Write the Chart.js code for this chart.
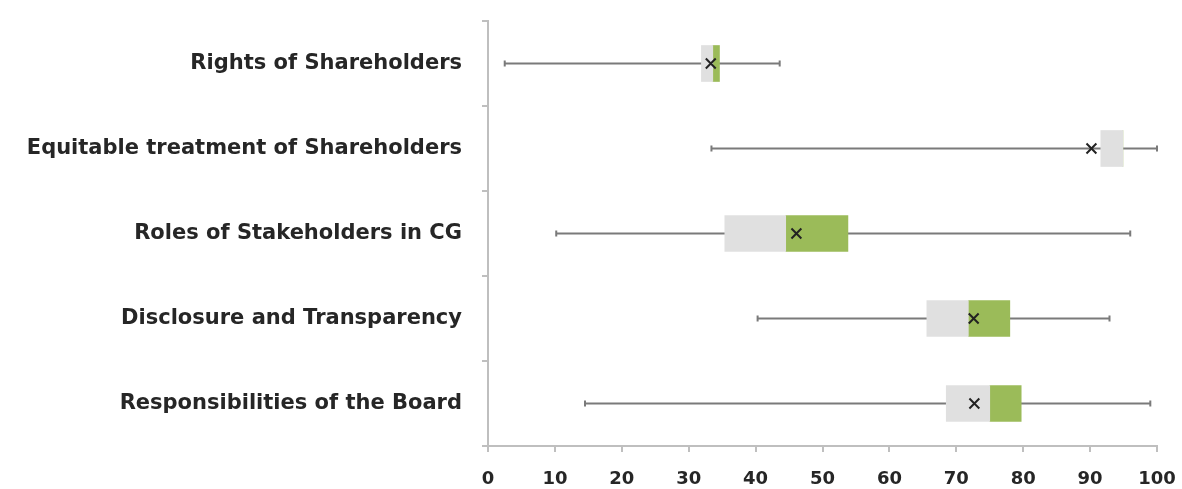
<!DOCTYPE html>
<html>
<head>
<meta charset="utf-8">
<script src="https://cdn.jsdelivr.net/npm/chart.js@4"></script>
<style>
  html, body { margin: 0; padding: 0; background: #fff; }
  #wrap { width: 1182px; height: 489px; }
</style>
</head>
<body>
<div id="wrap"><canvas id="box-chart"></canvas></div>
<script>
const categories = [
    'Rights of Shareholders',
    'Equitable treatment of Shareholders',
    'Roles of Stakeholders in CG',
    'Disclosure and Transparency',
    'Responsibilities of the Board'
];
const mins    = [2.5, 33.4, 10.2, 40.3, 14.5];
const q1      = [31.9, 91.6, 35.4, 65.6, 68.5];
const medians = [33.6, 94.9, 44.5, 71.8, 75.0];
const q3      = [34.6, 94.9, 53.8, 78.0, 79.7];
const maxs    = [43.6, 100, 96.0, 92.9, 99.0];
const means   = [33.3, 90.2, 46.1, 72.6, 72.7];

// whisker lines behind the boxes
const whiskers = {
    id: 'whiskers',
    beforeDatasetsDraw(chart) {
        const { ctx, scales: { x, y } } = chart;
        ctx.save();
        ctx.strokeStyle = '#7a7a7a';
        ctx.lineWidth = 2;
        categories.forEach((c, i) => {
            const yy = y.getPixelForValue(i);
            const x0 = x.getPixelForValue(mins[i]);
            const x1 = x.getPixelForValue(maxs[i]);
            ctx.beginPath();
            ctx.moveTo(x0, yy);
            ctx.lineTo(x1, yy);
            ctx.moveTo(x0, yy - 3);
            ctx.lineTo(x0, yy + 3);
            ctx.moveTo(x1, yy - 3);
            ctx.lineTo(x1, yy + 3);
            ctx.stroke();
        });
        ctx.restore();
    }
};

new Chart(document.querySelector('#box-chart').getContext('2d'), {
    type: 'bar',
    data: {
        labels: categories,
        datasets: [
            {
                label: 'Q1-Median',
                data: categories.map((c, i) => [q1[i], medians[i]]),
                backgroundColor: '#e0e0e0',
                grouped: false,
                barThickness: 36,
                order: 2
            },
            {
                label: 'Median-Q3',
                data: categories.map((c, i) => [medians[i], q3[i]]),
                backgroundColor: '#9bbb59',
                grouped: false,
                barThickness: 36,
                order: 2
            },
            {
                type: 'line',
                label: 'Mean',
                data: categories.map((c, i) => ({ x: means[i], y: c })),
                showLine: false,
                pointStyle: 'crossRot',
                pointRadius: 7,
                borderColor: '#222',
                borderWidth: 2,
                order: 1
            }
        ]
    },
    options: {
        indexAxis: 'y',
        responsive: true,
        maintainAspectRatio: false,
        animation: false,
        layout: { padding: { top: 21, right: 25, left: 0, bottom: 0 } },
        plugins: { legend: { display: false }, tooltip: { enabled: false } },
        scales: {
            x: {
                min: 0,
                max: 100,
                ticks: { stepSize: 10, color: '#262626', font: { family: 'DejaVu Sans', weight: 'bold', size: 18 }, padding: 17 },
                grid: { drawOnChartArea: false, tickLength: 6, color: '#bfbfbf', lineWidth: 2 },
                border: { color: '#bfbfbf', width: 2 },
                afterFit(axis) {
                    axis.height = 43;
                    axis.paddingLeft = 0;
                    axis.paddingRight = 0;
                }
            },
            y: {
                ticks: { color: '#262626', font: { family: 'DejaVu Sans', weight: 'bold', size: 21 }, padding: 20 },
                grid: { offset: true, drawOnChartArea: false, tickLength: 6, color: '#bfbfbf', lineWidth: 2 },
                border: { color: '#bfbfbf', width: 2 },
                afterFit(axis) {
                    axis.width = 488;
                    axis.paddingTop = 0;
                    axis.paddingBottom = 0;
                }
            }
        }
    },
    plugins: [whiskers]
});
</script>
</body>
</html>
